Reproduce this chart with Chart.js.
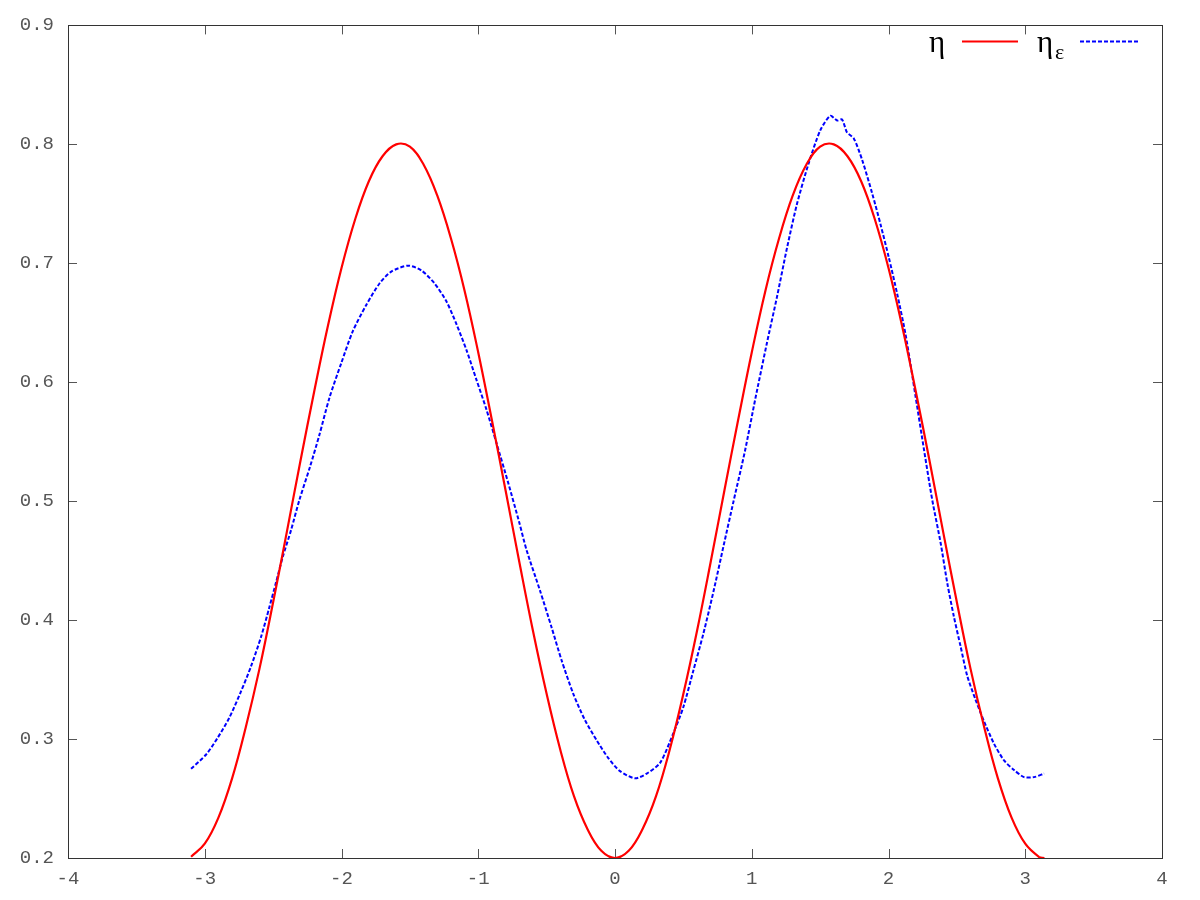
<!DOCTYPE html>
<html>
<head>
<meta charset="utf-8">
<script src="https://cdn.jsdelivr.net/npm/chart.js@4/dist/chart.umd.min.js"></script>
<style>body{margin:0;background:#fff}</style>
</head>
<body>
<canvas id="chart" width="1200" height="900"></canvas>
<script>
// eta (exact)
const etaX = [-3.1, -3.0, -2.9, -2.8, -2.7, -2.6, -2.5, -2.4, -2.3, -2.2, -2.1, -2.0, -1.9, -1.8, -1.7, -1.6,
  -1.5, -1.4, -1.3, -1.2, -1.1, -1.0, -0.9, -0.8, -0.7, -0.6, -0.5, -0.4, -0.3, -0.2, -0.1, 0,
  0.1, 0.2, 0.3, 0.4, 0.5, 0.6, 0.7, 0.8, 0.9, 1.0, 1.1, 1.2, 1.3, 1.4, 1.5,
  1.6, 1.7, 1.8, 1.9, 2.0, 2.1, 2.2, 2.3, 2.4, 2.5, 2.6, 2.7, 2.8, 2.9, 3.0, 3.1, 3.14];
const etaY = [0.201, 0.212, 0.234, 0.267, 0.310, 0.359, 0.415, 0.474, 0.534, 0.592, 0.647, 0.696, 0.737, 0.769, 0.790, 0.800,
  0.798, 0.783, 0.757, 0.721, 0.677, 0.625, 0.568, 0.509, 0.449, 0.391, 0.338, 0.291, 0.252, 0.224, 0.206, 0.200,
  0.206, 0.224, 0.252, 0.291, 0.338, 0.391, 0.449, 0.509, 0.568, 0.625, 0.677, 0.721, 0.757, 0.783, 0.798,
  0.800, 0.790, 0.769, 0.737, 0.696, 0.647, 0.592, 0.534, 0.474, 0.415, 0.359, 0.310, 0.267, 0.234, 0.212, 0.201, 0.200];

// eta_epsilon (noisy estimate)
const etaEpsX = [-3.10, -2.99, -2.906, -2.82, -2.735, -2.662, -2.588, -2.527, -2.478, -2.43, -2.368, -2.308, -2.23,
  -2.161, -2.088, -2.002, -1.917, -1.819, -1.722, -1.636, -1.514, -1.416, -1.319, -1.233, -1.16, -1.086, -1.013,
  -0.94, -0.867, -0.78, -0.70, -0.647, -0.549, -0.464, -0.39, -0.305, -0.22, -0.134, -0.049, 0.037, 0.147, 0.232,
  0.33, 0.427, 0.5, 0.574, 0.647, 0.72, 0.793, 0.867, 0.95, 1.026, 1.111, 1.185, 1.258, 1.331, 1.416, 1.502,
  1.575, 1.624, 1.66, 1.697, 1.746, 1.807, 1.88, 1.941, 2.002, 2.064, 2.125, 2.198, 2.26, 2.32, 2.381, 2.43,
  2.478, 2.527, 2.576, 2.637, 2.698, 2.772, 2.845, 2.918, 2.991, 3.065, 3.138];
const etaEpsY = [0.275, 0.287, 0.301, 0.318, 0.340, 0.361, 0.386, 0.411, 0.432, 0.453, 0.476, 0.501, 0.529,
  0.556, 0.587, 0.616, 0.643, 0.665, 0.683, 0.693, 0.698, 0.694, 0.683, 0.668, 0.649, 0.627, 0.602,
  0.577, 0.549, 0.515, 0.482, 0.459, 0.425, 0.394, 0.366, 0.338, 0.316, 0.299, 0.284, 0.273, 0.267, 0.271,
  0.280, 0.305, 0.327, 0.358, 0.389, 0.424, 0.462, 0.500, 0.542, 0.586, 0.633, 0.672, 0.713, 0.750, 0.784, 0.812,
  0.824, 0.820, 0.821, 0.810, 0.805, 0.787, 0.759, 0.733, 0.705, 0.674, 0.640, 0.588, 0.543, 0.501, 0.465, 0.431,
  0.403, 0.378, 0.353, 0.333, 0.315, 0.296, 0.282, 0.274, 0.268, 0.268, 0.271];

const xTicks = [-4, -3, -2, -1, 0, 1, 2, 3, 4];
const yTicks = [0.2, 0.3, 0.4, 0.5, 0.6, 0.7, 0.8, 0.9];

const toPoints = (xs, ys) => xs.map((x, i) => ({ x: x, y: ys[i] }));

// gnuplot-like frame with inward ticks on all four sides
const frame = {
  id: 'frame',
  beforeDatasetsDraw(chart) {
    const { ctx, chartArea: a, scales } = chart;
    ctx.save();
    ctx.lineWidth = 1;
    ctx.strokeStyle = '#555';
    ctx.beginPath();
    xTicks.forEach(v => {
      const px = Math.round(scales.x.getPixelForValue(v)) + 0.5;
      ctx.moveTo(px, a.bottom); ctx.lineTo(px, a.bottom - 9);
      ctx.moveTo(px, a.top); ctx.lineTo(px, a.top + 9);
    });
    yTicks.forEach(v => {
      const py = Math.round(scales.y.getPixelForValue(v)) + 0.5;
      ctx.moveTo(a.left, py); ctx.lineTo(a.left + 9, py);
      ctx.moveTo(a.right, py); ctx.lineTo(a.right - 9, py);
    });
    ctx.stroke();
    ctx.strokeStyle = '#333';
    ctx.strokeRect(Math.round(a.left) + 0.5, Math.round(a.top) + 0.5,
      Math.round(a.right - a.left), Math.round(a.bottom - a.top));
    ctx.restore();
  }
};

// key in the top right corner: label first, sample after
const key = {
  id: 'key',
  afterDraw(chart) {
    const { ctx, data } = chart;
    ctx.save();
    ctx.fillStyle = '#000';
    ctx.textBaseline = 'alphabetic';
    ctx.font = '31px "Liberation Serif"';
    ctx.fillText('η', 929, 52);
    ctx.fillText('η', 1037, 52);
    ctx.font = '22px "Liberation Serif"';
    ctx.fillText('ε', 1055, 59);

    ctx.lineWidth = 2;
    ctx.strokeStyle = data.datasets[0].borderColor;
    ctx.beginPath(); ctx.moveTo(962, 41.5); ctx.lineTo(1018, 41.5); ctx.stroke();
    ctx.strokeStyle = data.datasets[1].borderColor;
    ctx.setLineDash(data.datasets[1].borderDash);
    ctx.beginPath(); ctx.moveTo(1080, 41.5); ctx.lineTo(1138, 41.5); ctx.stroke();
    ctx.restore();
  }
};

const tickFont = { family: '"Liberation Mono", monospace', size: 19 };

new Chart(document.getElementById('chart'), {
  type: 'scatter',
  data: {
    datasets: [{
      label: 'η',
      data: toPoints(etaX, etaY),
      showLine: true,
      borderColor: '#ff0000',
      borderWidth: 2.2,
      pointRadius: 0,
      tension: 0.4
    }, {
      label: 'ηε',
      data: toPoints(etaEpsX, etaEpsY),
      showLine: true,
      borderColor: '#0000ff',
      borderWidth: 2,
      borderDash: [4, 2],
      pointRadius: 0,
      tension: 0.25
    }]
  },
  options: {
    responsive: false,
    animation: false,
    layout: { padding: { top: 25, right: 38, left: 0, bottom: 0 } },
    plugins: {
      legend: { display: false },
      tooltip: { enabled: false }
    },
    scales: {
      x: {
        type: 'linear',
        min: -4,
        max: 4,
        afterBuildTicks: s => { s.ticks = xTicks.map(v => ({ value: v })); },
        afterFit: s => { s.height = 42; },
        grid: { display: false, drawTicks: false },
        border: { display: false },
        ticks: { font: tickFont, color: '#555', padding: 10, maxRotation: 0 }
      },
      y: {
        type: 'linear',
        min: 0.2,
        max: 0.9,
        afterBuildTicks: s => { s.ticks = yTicks.map(v => ({ value: v })); },
        afterFit: s => { s.width = 68; },
        grid: { display: false, drawTicks: false },
        border: { display: false },
        ticks: { font: tickFont, color: '#555', padding: 14, callback: v => v.toFixed(1) }
      }
    }
  },
  plugins: [frame, key]
});
</script>
</body>
</html>
